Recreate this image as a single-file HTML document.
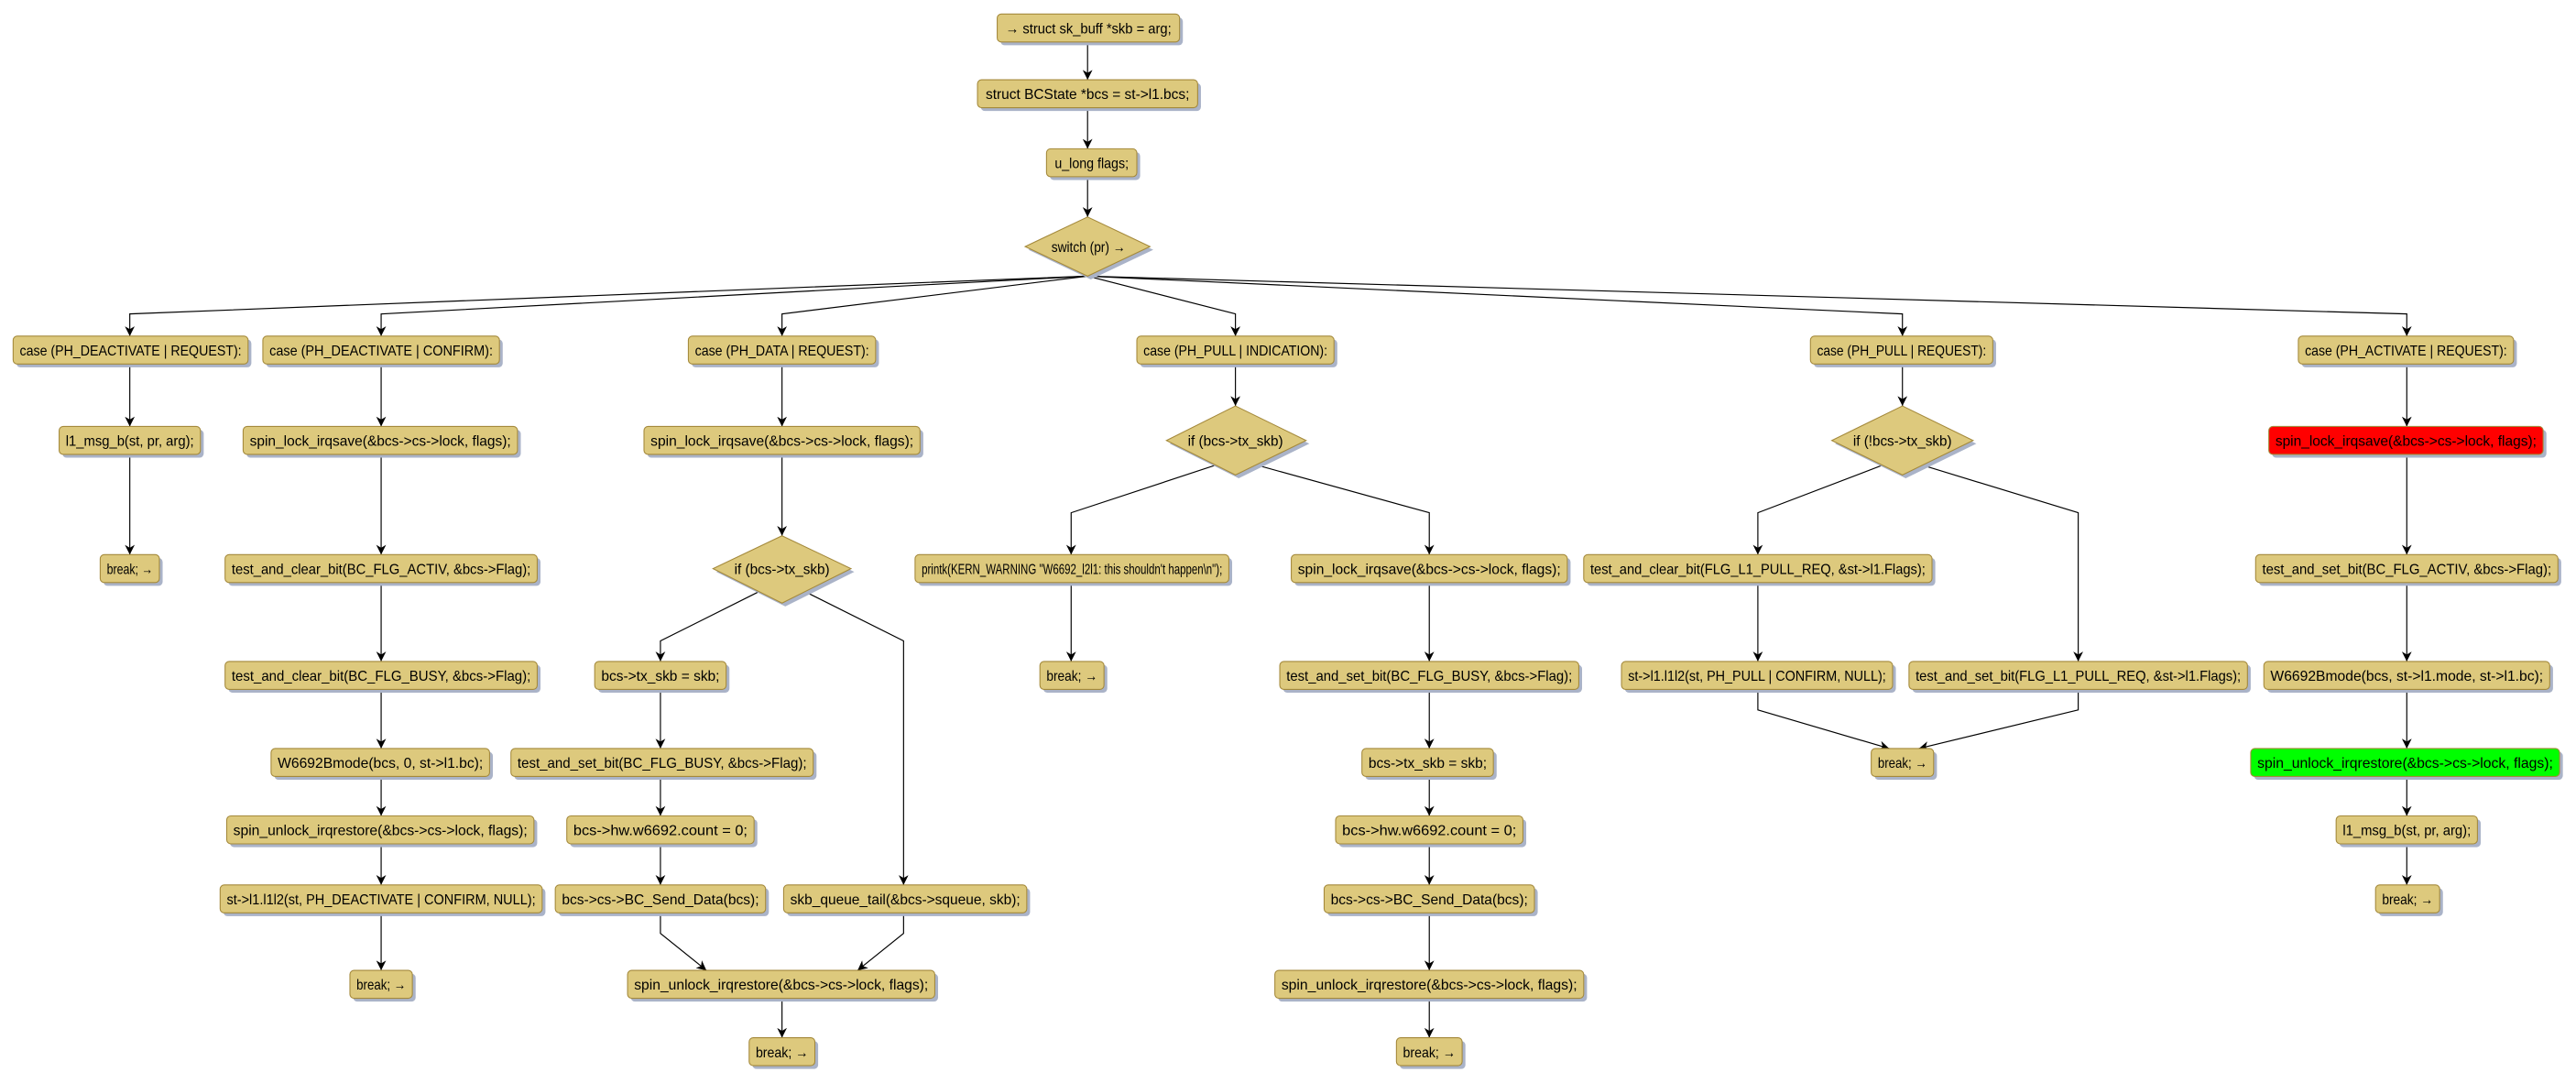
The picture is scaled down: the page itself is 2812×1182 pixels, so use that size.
<!DOCTYPE html>
<html><head><meta charset="utf-8"><style>
html,body{margin:0;padding:0;background:#fff;}
svg{display:block;}
.b{fill:#ddc97d;stroke:#a4893b;stroke-width:0.6;}
.s{fill:#aab3c8;}
.e{fill:none;stroke:#000;stroke-width:0.65;}
text{font-family:"Liberation Sans","DejaVu Sans",sans-serif;font-size:9px;fill:#000;}
</style></head><body>
<svg width="2812" height="1182" viewBox="0 0 1568 659" xmlns="http://www.w3.org/2000/svg">
<defs>
<marker id="a" viewBox="0 0 10 10" refX="10" refY="5" markerWidth="6" markerHeight="6" orient="auto" markerUnits="userSpaceOnUse">
<path d="M0,0 L10,5 L0,10 L3,5 z" fill="#000"/></marker>
</defs>

<g class="e" marker-end="url(#a)">
<path d="M662,26 V48.5"/>
<path d="M662,65.5 V90.5"/>
<path d="M662,107.5 V132"/>
<path d="M662,168 L79,191 V204.5"/>
<path d="M662,168 L232,191 V204.5"/>
<path d="M662,168 L476,191 V204.5"/>
<path d="M662,168 L752,191 V204.5"/>
<path d="M662,168 L1158,191 V204.5"/>
<path d="M662,168 L1465,191 V204.5"/>
<path d="M79,221.5 V259.5"/>
<path d="M79,276.5 V337.5"/>
<path d="M232,221.5 V259.5"/>
<path d="M232,276.5 V337.5"/>
<path d="M232,354.5 V402.5"/>
<path d="M232,419.5 V455.5"/>
<path d="M232,472.5 V496.5"/>
<path d="M232,513.5 V538.5"/>
<path d="M232,555.5 V590.5"/>
<path d="M476,221.5 V259.5"/>
<path d="M476,276.5 V326"/>
<path d="M462,360 L402,390 V402.5"/>
<path d="M490,360 L550,390 V538.5"/>
<path d="M402,419.5 V455.5"/>
<path d="M402,472.5 V496.5"/>
<path d="M402,513.5 V538.5"/>
<path d="M402,555.5 V568 L430,590.5"/>
<path d="M550,555.5 V568 L522,590.5"/>
<path d="M476,607.5 V631.5"/>
<path d="M752,221.5 V247"/>
<path d="M740,283 L652,312 V337.5"/>
<path d="M765,283 L870,312 V337.5"/>
<path d="M652,354.5 V402.5"/>
<path d="M870,354.5 V402.5"/>
<path d="M870,419.5 V455.5"/>
<path d="M870,472.5 V496.5"/>
<path d="M870,513.5 V538.5"/>
<path d="M870,555.5 V590.5"/>
<path d="M870,607.5 V631.5"/>
<path d="M1158,221.5 V247"/>
<path d="M1146,283 L1070,312 V337.5"/>
<path d="M1170,283 L1265,312 V402.5"/>
<path d="M1070,354.5 V402.5"/>
<path d="M1070,419.5 V432 L1150,455.5"/>
<path d="M1265,419.5 V432 L1168,455.5"/>
<path d="M1465,221.5 V259.5"/>
<path d="M1465,276.5 V337.5"/>
<path d="M1465,354.5 V402.5"/>
<path d="M1465,419.5 V455.5"/>
<path d="M1465,472.5 V496.5"/>
<path d="M1465,513.5 V538.5"/>
</g>

<g>
<rect class="s" x="609" y="10.5" width="111" height="17" rx="2.5"/><rect class="b" x="607" y="8.5" width="111" height="17" rx="2.5"/><text x="612" y="20.3" textLength="101" lengthAdjust="spacingAndGlyphs">→ struct sk_buff *skb = arg;</text>
<rect class="s" x="597" y="50.5" width="134" height="17" rx="2.5"/><rect class="b" x="595" y="48.5" width="134" height="17" rx="2.5"/><text x="600" y="60.3" textLength="124" lengthAdjust="spacingAndGlyphs">struct BCState *bcs = st-&gt;l1.bcs;</text>
<rect class="s" x="639" y="92.5" width="55" height="17" rx="2.5"/><rect class="b" x="637" y="90.5" width="55" height="17" rx="2.5"/><text x="642" y="102.3" textLength="45" lengthAdjust="spacingAndGlyphs">u_long flags;</text>
<polygon class="s" points="664,134 702,152 664,170 626,152"/><polygon class="b" points="662,132 700,150 662,168 624,150"/><text x="640" y="153.3" textLength="45" lengthAdjust="spacingAndGlyphs">switch (pr) →</text>

<rect class="s" x="10" y="206.5" width="143" height="17" rx="2.5"/><rect class="b" x="8" y="204.5" width="143" height="17" rx="2.5"/><text x="12" y="216.3" textLength="135" lengthAdjust="spacingAndGlyphs">case (PH_DEACTIVATE | REQUEST):</text>
<rect class="s" x="162" y="206.5" width="144" height="17" rx="2.5"/><rect class="b" x="160" y="204.5" width="144" height="17" rx="2.5"/><text x="164" y="216.3" textLength="136" lengthAdjust="spacingAndGlyphs">case (PH_DEACTIVATE | CONFIRM):</text>
<rect class="s" x="421" y="206.5" width="114" height="17" rx="2.5"/><rect class="b" x="419" y="204.5" width="114" height="17" rx="2.5"/><text x="423" y="216.3" textLength="106" lengthAdjust="spacingAndGlyphs">case (PH_DATA | REQUEST):</text>
<rect class="s" x="694" y="206.5" width="120" height="17" rx="2.5"/><rect class="b" x="692" y="204.5" width="120" height="17" rx="2.5"/><text x="696" y="216.3" textLength="112" lengthAdjust="spacingAndGlyphs">case (PH_PULL | INDICATION):</text>
<rect class="s" x="1104" y="206.5" width="111" height="17" rx="2.5"/><rect class="b" x="1102" y="204.5" width="111" height="17" rx="2.5"/><text x="1106" y="216.3" textLength="103" lengthAdjust="spacingAndGlyphs">case (PH_PULL | REQUEST):</text>
<rect class="s" x="1401" y="206.5" width="131" height="17" rx="2.5"/><rect class="b" x="1399" y="204.5" width="131" height="17" rx="2.5"/><text x="1403" y="216.3" textLength="123" lengthAdjust="spacingAndGlyphs">case (PH_ACTIVATE | REQUEST):</text>

<rect class="s" x="38" y="261.5" width="86" height="17" rx="2.5"/><rect class="b" x="36" y="259.5" width="86" height="17" rx="2.5"/><text x="40" y="271.3" textLength="78" lengthAdjust="spacingAndGlyphs">l1_msg_b(st, pr, arg);</text>
<rect class="s" x="63" y="339.5" width="36" height="17" rx="2.5"/><rect class="b" x="61" y="337.5" width="36" height="17" rx="2.5"/><text x="65" y="349.3" textLength="28" lengthAdjust="spacingAndGlyphs">break; →</text>

<rect class="s" x="150" y="261.5" width="167" height="17" rx="2.5"/><rect class="b" x="148" y="259.5" width="167" height="17" rx="2.5"/><text x="152" y="271.3" textLength="159" lengthAdjust="spacingAndGlyphs">spin_lock_irqsave(&amp;bcs-&gt;cs-&gt;lock, flags);</text>
<rect class="s" x="139" y="339.5" width="190" height="17" rx="2.5"/><rect class="b" x="137" y="337.5" width="190" height="17" rx="2.5"/><text x="141" y="349.3" textLength="182" lengthAdjust="spacingAndGlyphs">test_and_clear_bit(BC_FLG_ACTIV, &amp;bcs-&gt;Flag);</text>
<rect class="s" x="139" y="404.5" width="190" height="17" rx="2.5"/><rect class="b" x="137" y="402.5" width="190" height="17" rx="2.5"/><text x="141" y="414.3" textLength="182" lengthAdjust="spacingAndGlyphs">test_and_clear_bit(BC_FLG_BUSY, &amp;bcs-&gt;Flag);</text>
<rect class="s" x="167" y="457.5" width="133" height="17" rx="2.5"/><rect class="b" x="165" y="455.5" width="133" height="17" rx="2.5"/><text x="169" y="467.3" textLength="125" lengthAdjust="spacingAndGlyphs">W6692Bmode(bcs, 0, st-&gt;l1.bc);</text>
<rect class="s" x="140" y="498.5" width="187" height="17" rx="2.5"/><rect class="b" x="138" y="496.5" width="187" height="17" rx="2.5"/><text x="142" y="508.3" textLength="179" lengthAdjust="spacingAndGlyphs">spin_unlock_irqrestore(&amp;bcs-&gt;cs-&gt;lock, flags);</text>
<rect class="s" x="136" y="540.5" width="196" height="17" rx="2.5"/><rect class="b" x="134" y="538.5" width="196" height="17" rx="2.5"/><text x="138" y="550.3" textLength="188" lengthAdjust="spacingAndGlyphs">st-&gt;l1.l1l2(st, PH_DEACTIVATE | CONFIRM, NULL);</text>
<rect class="s" x="215" y="592.5" width="38" height="17" rx="2.5"/><rect class="b" x="213" y="590.5" width="38" height="17" rx="2.5"/><text x="217" y="602.3" textLength="30" lengthAdjust="spacingAndGlyphs">break; →</text>

<rect class="s" x="394" y="261.5" width="168" height="17" rx="2.5"/><rect class="b" x="392" y="259.5" width="168" height="17" rx="2.5"/><text x="396" y="271.3" textLength="160" lengthAdjust="spacingAndGlyphs">spin_lock_irqsave(&amp;bcs-&gt;cs-&gt;lock, flags);</text>
<polygon class="s" points="478,328 520,348 478,369 436,348"/><polygon class="b" points="476,326 518,346 476,367 434,346"/><text x="447" y="349.3" textLength="58" lengthAdjust="spacingAndGlyphs">if (bcs-&gt;tx_skb)</text>
<rect class="s" x="364" y="404.5" width="80" height="17" rx="2.5"/><rect class="b" x="362" y="402.5" width="80" height="17" rx="2.5"/><text x="366" y="414.3" textLength="72" lengthAdjust="spacingAndGlyphs">bcs-&gt;tx_skb = skb;</text>
<rect class="s" x="313" y="457.5" width="184" height="17" rx="2.5"/><rect class="b" x="311" y="455.5" width="184" height="17" rx="2.5"/><text x="315" y="467.3" textLength="176" lengthAdjust="spacingAndGlyphs">test_and_set_bit(BC_FLG_BUSY, &amp;bcs-&gt;Flag);</text>
<rect class="s" x="347" y="498.5" width="114" height="17" rx="2.5"/><rect class="b" x="345" y="496.5" width="114" height="17" rx="2.5"/><text x="349" y="508.3" textLength="106" lengthAdjust="spacingAndGlyphs">bcs-&gt;hw.w6692.count = 0;</text>
<rect class="s" x="340" y="540.5" width="128" height="17" rx="2.5"/><rect class="b" x="338" y="538.5" width="128" height="17" rx="2.5"/><text x="342" y="550.3" textLength="120" lengthAdjust="spacingAndGlyphs">bcs-&gt;cs-&gt;BC_Send_Data(bcs);</text>
<rect class="s" x="479" y="540.5" width="148" height="17" rx="2.5"/><rect class="b" x="477" y="538.5" width="148" height="17" rx="2.5"/><text x="481" y="550.3" textLength="140" lengthAdjust="spacingAndGlyphs">skb_queue_tail(&amp;bcs-&gt;squeue, skb);</text>
<rect class="s" x="384" y="592.5" width="187" height="17" rx="2.5"/><rect class="b" x="382" y="590.5" width="187" height="17" rx="2.5"/><text x="386" y="602.3" textLength="179" lengthAdjust="spacingAndGlyphs">spin_unlock_irqrestore(&amp;bcs-&gt;cs-&gt;lock, flags);</text>
<rect class="s" x="458" y="633.5" width="40" height="17" rx="2.5"/><rect class="b" x="456" y="631.5" width="40" height="17" rx="2.5"/><text x="460" y="643.3" textLength="32" lengthAdjust="spacingAndGlyphs">break; →</text>

<polygon class="s" points="754,249 797,270 754,291 712,270"/><polygon class="b" points="752,247 795,268 752,289 710,268"/><text x="723" y="271.3" textLength="58" lengthAdjust="spacingAndGlyphs">if (bcs-&gt;tx_skb)</text>
<rect class="s" x="559" y="339.5" width="191" height="17" rx="2.5"/><rect class="b" x="557" y="337.5" width="191" height="17" rx="2.5"/><text x="561" y="349.3" textLength="183" lengthAdjust="spacingAndGlyphs">printk(KERN_WARNING "W6692_l2l1: this shouldn't happen\n");</text>
<rect class="s" x="635" y="404.5" width="39" height="17" rx="2.5"/><rect class="b" x="633" y="402.5" width="39" height="17" rx="2.5"/><text x="637" y="414.3" textLength="31" lengthAdjust="spacingAndGlyphs">break; →</text>
<rect class="s" x="788" y="339.5" width="168" height="17" rx="2.5"/><rect class="b" x="786" y="337.5" width="168" height="17" rx="2.5"/><text x="790" y="349.3" textLength="160" lengthAdjust="spacingAndGlyphs">spin_lock_irqsave(&amp;bcs-&gt;cs-&gt;lock, flags);</text>
<rect class="s" x="781" y="404.5" width="182" height="17" rx="2.5"/><rect class="b" x="779" y="402.5" width="182" height="17" rx="2.5"/><text x="783" y="414.3" textLength="174" lengthAdjust="spacingAndGlyphs">test_and_set_bit(BC_FLG_BUSY, &amp;bcs-&gt;Flag);</text>
<rect class="s" x="831" y="457.5" width="80" height="17" rx="2.5"/><rect class="b" x="829" y="455.5" width="80" height="17" rx="2.5"/><text x="833" y="467.3" textLength="72" lengthAdjust="spacingAndGlyphs">bcs-&gt;tx_skb = skb;</text>
<rect class="s" x="815" y="498.5" width="114" height="17" rx="2.5"/><rect class="b" x="813" y="496.5" width="114" height="17" rx="2.5"/><text x="817" y="508.3" textLength="106" lengthAdjust="spacingAndGlyphs">bcs-&gt;hw.w6692.count = 0;</text>
<rect class="s" x="808" y="540.5" width="128" height="17" rx="2.5"/><rect class="b" x="806" y="538.5" width="128" height="17" rx="2.5"/><text x="810" y="550.3" textLength="120" lengthAdjust="spacingAndGlyphs">bcs-&gt;cs-&gt;BC_Send_Data(bcs);</text>
<rect class="s" x="778" y="592.5" width="188" height="17" rx="2.5"/><rect class="b" x="776" y="590.5" width="188" height="17" rx="2.5"/><text x="780" y="602.3" textLength="180" lengthAdjust="spacingAndGlyphs">spin_unlock_irqrestore(&amp;bcs-&gt;cs-&gt;lock, flags);</text>
<rect class="s" x="852" y="633.5" width="40" height="17" rx="2.5"/><rect class="b" x="850" y="631.5" width="40" height="17" rx="2.5"/><text x="854" y="643.3" textLength="32" lengthAdjust="spacingAndGlyphs">break; →</text>

<polygon class="s" points="1160,249 1203,270 1160,291 1117,270"/><polygon class="b" points="1158,247 1201,268 1158,289 1115,268"/><text x="1128" y="271.3" textLength="60" lengthAdjust="spacingAndGlyphs">if (!bcs-&gt;tx_skb)</text>
<rect class="s" x="966" y="339.5" width="212" height="17" rx="2.5"/><rect class="b" x="964" y="337.5" width="212" height="17" rx="2.5"/><text x="968" y="349.3" textLength="204" lengthAdjust="spacingAndGlyphs">test_and_clear_bit(FLG_L1_PULL_REQ, &amp;st-&gt;l1.Flags);</text>
<rect class="s" x="989" y="404.5" width="165" height="17" rx="2.5"/><rect class="b" x="987" y="402.5" width="165" height="17" rx="2.5"/><text x="991" y="414.3" textLength="157" lengthAdjust="spacingAndGlyphs">st-&gt;l1.l1l2(st, PH_PULL | CONFIRM, NULL);</text>
<rect class="s" x="1164" y="404.5" width="206" height="17" rx="2.5"/><rect class="b" x="1162" y="402.5" width="206" height="17" rx="2.5"/><text x="1166" y="414.3" textLength="198" lengthAdjust="spacingAndGlyphs">test_and_set_bit(FLG_L1_PULL_REQ, &amp;st-&gt;l1.Flags);</text>
<rect class="s" x="1141" y="457.5" width="38" height="17" rx="2.5"/><rect class="b" x="1139" y="455.5" width="38" height="17" rx="2.5"/><text x="1143" y="467.3" textLength="30" lengthAdjust="spacingAndGlyphs">break; →</text>

<rect class="s" x="1383" y="261.5" width="167" height="17" rx="2.5"/><rect x="1381" y="259.5" width="167" height="17" rx="2.5" fill="#ff0000" stroke="#a4893b" stroke-width="0.6"/><text x="1385" y="271.3" textLength="159" lengthAdjust="spacingAndGlyphs">spin_lock_irqsave(&amp;bcs-&gt;cs-&gt;lock, flags);</text>
<rect class="s" x="1375" y="339.5" width="184" height="17" rx="2.5"/><rect class="b" x="1373" y="337.5" width="184" height="17" rx="2.5"/><text x="1377" y="349.3" textLength="176" lengthAdjust="spacingAndGlyphs">test_and_set_bit(BC_FLG_ACTIV, &amp;bcs-&gt;Flag);</text>
<rect class="s" x="1380" y="404.5" width="174" height="17" rx="2.5"/><rect class="b" x="1378" y="402.5" width="174" height="17" rx="2.5"/><text x="1382" y="414.3" textLength="166" lengthAdjust="spacingAndGlyphs">W6692Bmode(bcs, st-&gt;l1.mode, st-&gt;l1.bc);</text>
<rect class="s" x="1372" y="457.5" width="188" height="17" rx="2.5"/><rect x="1370" y="455.5" width="188" height="17" rx="2.5" fill="#00ff00" stroke="#a4893b" stroke-width="0.6"/><text x="1374" y="467.3" textLength="180" lengthAdjust="spacingAndGlyphs">spin_unlock_irqrestore(&amp;bcs-&gt;cs-&gt;lock, flags);</text>
<rect class="s" x="1424" y="498.5" width="86" height="17" rx="2.5"/><rect class="b" x="1422" y="496.5" width="86" height="17" rx="2.5"/><text x="1426" y="508.3" textLength="78" lengthAdjust="spacingAndGlyphs">l1_msg_b(st, pr, arg);</text>
<rect class="s" x="1448" y="540.5" width="39" height="17" rx="2.5"/><rect class="b" x="1446" y="538.5" width="39" height="17" rx="2.5"/><text x="1450" y="550.3" textLength="31" lengthAdjust="spacingAndGlyphs">break; →</text>
</g>
</svg>
</body></html>
